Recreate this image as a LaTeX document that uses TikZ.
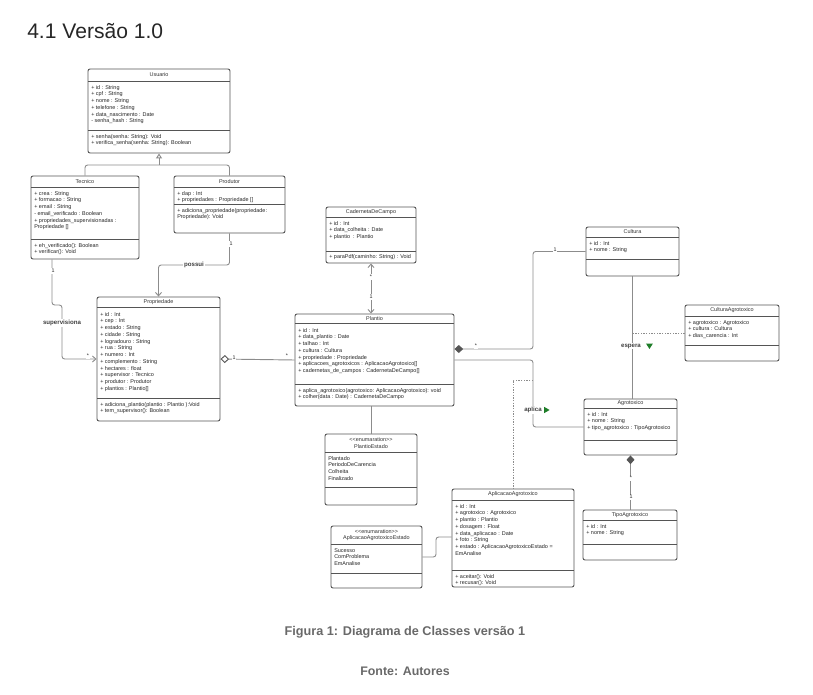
\documentclass[tikz,border=0pt]{standalone}
\usepackage{fontspec}
\setmainfont{Liberation Sans}
\usepackage{tikz}
\usetikzlibrary{arrows.meta}
\usetikzlibrary{fit}

\definecolor{boxline}{RGB}{85,85,85}
\definecolor{conline}{RGB}{140,140,140}
\definecolor{capgray}{RGB}{105,105,105}
\definecolor{markgreen}{RGB}{30,125,40}

\tikzset{
  classbox/.style={draw=boxline, line width=0.7pt, rounded corners=1.5pt, fill=white, inner sep=0pt},
  classsep/.style={draw=boxline, line width=0.6pt},
  classname/.style={font=\fontsize{4.1}{5}\selectfont, inner sep=0.75pt, align=center, text=black!80},
  members/.style={anchor=north west, font=\fontsize{4.1}{5.05}\selectfont, inner sep=0.75pt, align=left, text=black!85},
  assoc/.style={draw=conline, line width=0.7pt, rounded corners=2pt},
  assocdash/.style={draw=conline, line width=0.6pt, dash pattern={on 1pt off 1pt}},
  reltext/.style={font=\fontsize{4.6}{5}\selectfont\bfseries, fill=white, inner sep=0.6pt, text=black!75},
  mult/.style={font=\fontsize{4}{4.5}\selectfont, fill=white, inner sep=0.5pt, text=black!85},
  greenmark/.style={fill=markgreen, draw=none},
}

% caixa de classe: nome, x1, y1, x2, y2, linha do titulo, linha dos metodos
\newcommand{\umlclass}[7]{%
  \node[classbox, fit={(#2,#3) (#4,#5)}] (#1) {};
  \draw[classsep] (#2,#6) -- (#4,#6);
  \draw[classsep] (#2,#7) -- (#4,#7);
}

\begin{document}
\begin{tikzpicture}[x=0.75pt,y=0.75pt,yscale=-1,xscale=1,
  >={Straight Barb[length=2.6pt,width=4.6pt]}]
\useasboundingbox (0,0) rectangle (813,695);

% Titulo
\node[anchor=west, inner sep=0pt, font=\fontsize{15.8}{17}\selectfont, text=black!85] (titulo) at (27,31) {4.1 Versão 1.0};

%Shape: Usuario
\umlclass{usuario}{88}{69}{230}{153}{81}{130}
\node[classname] (usuarionome) at (159,75) {Usuario};
\node[members] (usuarioattr) at (90,84) {+ id : String\\+ cpf : String\\+ nome : String\\+ telefone : String\\+ data\_nascimento : Date\\- senha\_hash : String};
\node[members] (usuariomet) at (90,133) {+ senha(senha: String): Void\\+ verifica\_senha(senha: String): Boolean};

%Shape: Tecnico
\umlclass{tecnico}{31}{176}{139}{259}{187}{239}
\node[classname] (tecniconome) at (85,181.5) {Tecnico};
\node[members] (tecnicoattr) at (33,190) {+ crea : String\\+ formacao : String\\+ email : String\\- email\_verificado : Boolean\\+ propriedades\_supervisionadas :\\Propriedade []};
\node[members] (tecnicomet) at (33,242) {+ eh\_verificado(): Boolean\\+ verificar(): Void};

%Shape: Produtor
\umlclass{produtor}{174}{176}{285}{233}{187}{204}
\node[classname] (produtornome) at (229.5,181.5) {Produtor};
\node[members] (produtorattr) at (176,190) {+ dap : Int\\+ propriedades : Propriedade []};
\node[members] (produtormet) at (176,207) {+ adiciona\_propriedade(propriedade:\\Propriedade): Void};

%Shape: Propriedade
\umlclass{propriedade}{97}{297}{220}{421}{307}{398}
\node[classname] (propriedadenome) at (158.5,302) {Propriedade};
\node[members] (propriedadeattr) at (99,311) {+ id : Int\\+ cep : Int\\+ estado : String\\+ cidade : String\\+ logradouro : String\\+ rua : String\\+ numero : Int\\+ complemento : String\\+ hectares : float\\+ supervisor : Tecnico\\+ produtor : Produtor\\+ plantios : Plantio[]};
\node[members] (propriedademet) at (99,401) {+ adiciona\_plantio(plantio : Plantio ):Void\\+ tem\_supervisor(): Boolean};

%Shape: CadernetaDeCampo
\umlclass{caderneta}{326}{207}{416}{263}{217}{251}
\node[classname] (cadernetanome) at (371,212) {CadernetaDeCampo};
\node[members] (cadernetaattr) at (328,220) {+ id : Int\\+ data\_colheita : Date\\+ plantio~ : Plantio};
\node[members] (cadernetamet) at (328,253.5) {+ paraPdf(caminho: String) : Void};

%Shape: Plantio
\umlclass{plantio}{295}{314}{454}{406}{323}{384}
\node[classname] (plantionome) at (374.5,318.5) {Plantio};
\node[members] (plantioattr) at (297,327) {+ id : Int\\+ data\_plantio : Date\\+ talhao : Int\\+ cultura : Cultura\\+ propriedade : Propriedade\\+ aplicacoes\_agrotoxicos : AplicacaoAgrotoxico[]\\+ cadernetas\_de\_campos : CadernetaDeCampo[]};
\node[members] (plantiomet) at (297,387) {+ aplica\_agrotoxico(agrotoxico: AplicacaoAgrotoxico): void\\+ colher(data : Date) : CadernetaDeCampo};

%Shape: Cultura
\umlclass{cultura}{586}{227}{679}{276}{237}{259}
\node[classname] (culturanome) at (632.5,232) {Cultura};
\node[members] (culturaattr) at (588,240) {+ id : Int\\+ nome : String};

%Shape: CulturaAgrotoxico
\umlclass{culturaagro}{685}{305}{779}{361}{316}{345}
\node[classname] (culturaagronome) at (732,310.5) {CulturaAgrotoxico};
\node[members] (culturaagroattr) at (687,319) {+ agrotoxico : Agrotoxico\\+ cultura : Cultura\\+ dias\_carencia : Int};

%Shape: Agrotoxico
\umlclass{agrotoxico}{584}{399}{677}{455}{408}{440}
\node[classname] (agrotoxiconome) at (630.5,403.5) {Agrotoxico};
\node[members] (agrotoxicoattr) at (586,411) {+ id : Int\\+ nome : String\\+ tipo\_agrotoxico : TipoAgrotoxico};

%Shape: TipoAgrotoxico
\umlclass{tipoagro}{583}{510}{677}{560}{520}{544}
\node[classname] (tipoagronome) at (630,515) {TipoAgrotoxico};
\node[members] (tipoagroattr) at (585,523) {+ id : Int\\+ nome : String};

%Shape: PlantioEstado
\umlclass{plantioestado}{325}{434}{417}{505}{452}{487}
\node[classname] (plantioestadonome) at (371,443) {<{}<enumaration>{}>\\PlantioEstado};
\node[members] (plantioestadoval) at (327,455) {Plantado\\PeriodoDeCarencia\\Colheita\\Finalizado};

%Shape: AplicacaoAgrotoxico
\umlclass{aplicacao}{452}{489}{574}{587}{500}{570}
\node[classname] (aplicacaonome) at (513,494.5) {AplicacaoAgrotoxico};
\node[members] (aplicacaoattr) at (454,503) {+ id : Int\\+ agrotoxico : Agrotoxico\\+ plantio : Plantio\\+ dosagem : Float\\+ data\_aplicacao : Date\\+ foto : String\\+ estado : AplicacaoAgrotoxicoEstado =\\EmAnalise};
\node[members] (aplicacaomet) at (454,573) {+ aceitar(): Void\\+ recusar(): Void};

%Shape: AplicacaoAgrotoxicoEstado
\umlclass{aplicestado}{331}{526}{422}{588}{544}{573}
\node[classname] (aplicestadonome) at (376.5,535) {<{}<enumaration>{}>\\AplicacaoAgrotoxicoEstado};
\node[members] (aplicestadoval) at (333,547) {Sucesso\\ComProblema\\EmAnalise};

% Heranca Usuario
\coordinate (heranca) at (159,165);
\draw[assoc] (tecnico.north) |- (heranca) -| (produtor.north);
\draw[assoc, -{Triangle[open, length=3.6pt, width=4.4pt, fill=white]}] (heranca) -- (usuario.south);

% possui
\draw[assoc, ->] (produtor.south) |- (158.5,265) -- (propriedade.north);
\node[mult] at (231,244) {1};
\node[reltext] (possui) at (194,265) {possui};

% supervisiona
\draw[assoc, ->] (tecnico.south -| 52,0) |- (62,305) |- (propriedade.west);
\node[mult] at (53,271) {1};
\node[mult] at (88,356) {*};
\node[reltext] (supervisiona) at (62,323) {supervisiona};

% Propriedade -- Plantio
\draw[assoc, {Diamond[open, length=6.5pt, width=6pt, color=boxline, fill=white]}-] (propriedade.east) -- (plantio.west);
\node[mult] at (234,358) {1};
\node[mult] at (287,356) {*};

% Caderneta -- Plantio
\draw[assoc, <->] (caderneta.south) -- (caderneta.south |- plantio.north);
\node[mult] at (371,277) {*};
\node[mult] at (371,297) {1};

% Plantio -- Cultura
\draw[assoc, {Diamond[length=6.5pt, width=6pt, color=boxline]}-] (plantio.east |- 0,349) -- (533,349) |- (cultura.west);
\node[mult] at (476,346) {*};
\node[mult] at (555,250) {1};

% aplica
\draw[assoc] (plantio.east) -- (533,360) |- (agrotoxico.west);
\coordinate (meioaplica) at (533,380);
\draw[assocdash] (meioaplica) -| (aplicacao.north);
\node[reltext] (aplica) at (533,410) {aplica};
\fill[greenmark] ([xshift=1pt]aplica.east) ++(0,-3.2) -- ++(5.5,3.2) -- ++(-5.5,3.2) -- cycle;

% espera
\draw[assoc] (cultura.south) -- (cultura.south |- agrotoxico.north);
\draw[assocdash] (culturaagro.west) -- (culturaagro.west -| cultura.south);
\node[reltext] (espera) at (631,346) {espera};
\fill[greenmark] ([xshift=3pt]espera.east) ++(0,-2.5) -- ++(7,0) -- ++(-3.5,5.5) -- cycle;

% Agrotoxico -- TipoAgrotoxico
\draw[assoc, {Diamond[length=6.5pt, width=6pt, color=boxline]}-] (agrotoxico.south) -- (agrotoxico.south |- tipoagro.north);
\node[mult] at (631,478) {*};
\node[mult] at (631,497) {1};

% Plantio -- PlantioEstado
\draw[assoc] (plantioestado.north |- plantio.south) -- (plantioestado.north);

% AplicacaoEstado -- Aplicacao
\draw[assoc] (aplicestado.east) -- (436,557) |- (aplicacao.west |- 0,537);

% Legenda
\node[font=\fontsize{9.5}{11}\selectfont\bfseries, text=capgray] (legenda) at (405,632) {Figura 1: Diagrama de Classes versão 1};
\node[font=\fontsize{9.3}{11}\selectfont\bfseries, text=capgray] (fonte) at (405,671) {Fonte: Autores};

\end{tikzpicture}
\end{document}
